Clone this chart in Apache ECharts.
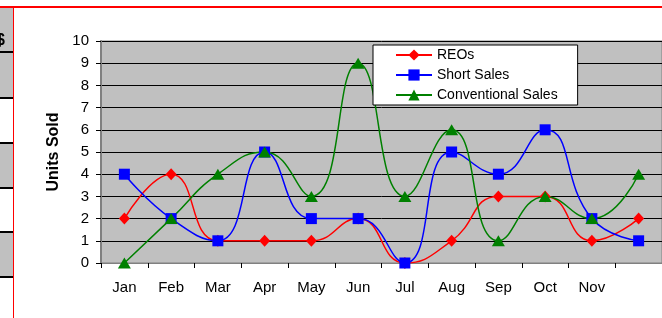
<!DOCTYPE html>
<html>
<head>
<meta charset="utf-8">
<script src="https://cdn.jsdelivr.net/npm/echarts@6/dist/echarts.min.js"></script>
<style>
html,body{margin:0;padding:0;background:#fff;}
#chart{width:662px;height:318px;}
</style>
</head>
<body>
<div id="chart"></div>
<script>
const categories = ['Jan','Feb','Mar','Apr','May','Jun','Jul','Aug','Sep','Oct','Nov',''];
const reos = [2,4,1,1,1,2,0,1,3,3,1,2];
const shortSales = [4,2,1,5,2,2,0,5,4,6,2,1];
const conventional = [0,2,4,5,3,9,3,6,1,3,2,4];
const yTicks = {min:0, max:10, interval:1};

const chart = echarts.init(document.getElementById('chart'), null, {renderer:'canvas'});
const font = 'Liberation Sans, Arial, sans-serif';
chart.setOption({
  animation:false,
  backgroundColor:'#fff',
  textStyle:{fontFamily:font},
  grid:{left:101, top:41, width:568, height:222, show:true, backgroundColor:'#c0c0c0', borderColor:'#808080', borderWidth:1},
  legend:{
    orient:'vertical', left:373, top:45,
    backgroundColor:'#fff', borderColor:'#000', borderWidth:1, borderRadius:0,
    padding:[3,20,3,22], itemGap:6, itemWidth:36, itemHeight:14,
    textStyle:{fontFamily:font, fontSize:14, color:'#000'},
    data:['REOs','Short Sales','Conventional Sales']
  },
  xAxis:{
    type:'category', data:categories, boundaryGap:true,
    axisLine:{lineStyle:{color:'#808080', width:1}},
    axisTick:{show:true, interval:0, length:5, alignWithLabel:false, lineStyle:{color:'#000'}},
    axisLabel:{interval:0, margin:17, fontSize:15, color:'#000', fontFamily:font},
    splitLine:{show:false}
  },
  yAxis:{
    type:'value', min:yTicks.min, max:yTicks.max, interval:yTicks.interval,
    name:'Units Sold', nameLocation:'middle', nameGap:27, nameRotate:90,
    nameTextStyle:{fontFamily:font, fontSize:16, fontWeight:'bold', color:'#000'},
    axisLine:{show:true, lineStyle:{color:'#808080', width:2}},
    axisTick:{show:true, length:5, lineStyle:{color:'#000'}},
    axisLabel:{margin:12, fontSize:15, color:'#000', fontFamily:font},
    splitLine:{show:true, lineStyle:{color:'#000', width:1}}
  },
  series:[
    {name:'REOs', type:'line', data:reos, smooth:true, color:'#ff0000',
     lineStyle:{width:1.5, color:'#ff0000'}, symbol:'diamond', symbolSize:[11,12],
     itemStyle:{color:'#ff0000'}},
    {name:'Short Sales', type:'line', data:shortSales, smooth:true, color:'#0000ff',
     lineStyle:{width:1.5, color:'#0000ff'}, symbol:'rect', symbolSize:11,
     itemStyle:{color:'#0000ff'}},
    {name:'Conventional Sales', type:'line', data:conventional, smooth:true, color:'#008000',
     lineStyle:{width:1.5, color:'#008000'}, symbol:'triangle', symbolSize:[13,11],
     itemStyle:{color:'#008000'}}
  ],
  graphic:[
    {type:'rect', shape:{x:0,y:8,width:13,height:90}, style:{fill:'#c0c0c0'}, silent:true},
    {type:'rect', shape:{x:0,y:143,width:13,height:45}, style:{fill:'#c0c0c0'}, silent:true},
    {type:'rect', shape:{x:0,y:232,width:13,height:45}, style:{fill:'#c0c0c0'}, silent:true},
    {type:'rect', shape:{x:0,y:51,width:13,height:2}, style:{fill:'#000'}, silent:true},
    {type:'rect', shape:{x:0,y:97,width:13,height:2}, style:{fill:'#000'}, silent:true},
    {type:'rect', shape:{x:0,y:142,width:13,height:2}, style:{fill:'#000'}, silent:true},
    {type:'rect', shape:{x:0,y:187,width:13,height:2}, style:{fill:'#000'}, silent:true},
    {type:'rect', shape:{x:0,y:231,width:13,height:2}, style:{fill:'#000'}, silent:true},
    {type:'rect', shape:{x:0,y:276,width:13,height:2}, style:{fill:'#000'}, silent:true},
    {type:'text', x:-4, y:33, style:{text:'$', fontFamily:font, fontSize:16, fontWeight:'bold', fill:'#000'}, silent:true},
    {type:'rect', shape:{x:0,y:6,width:662,height:2}, style:{fill:'#ff0000'}, silent:true},
    {type:'rect', shape:{x:13,y:7,width:1,height:311}, style:{fill:'#ff0000'}, silent:true}
  ]
});
</script>
</body>
</html>
